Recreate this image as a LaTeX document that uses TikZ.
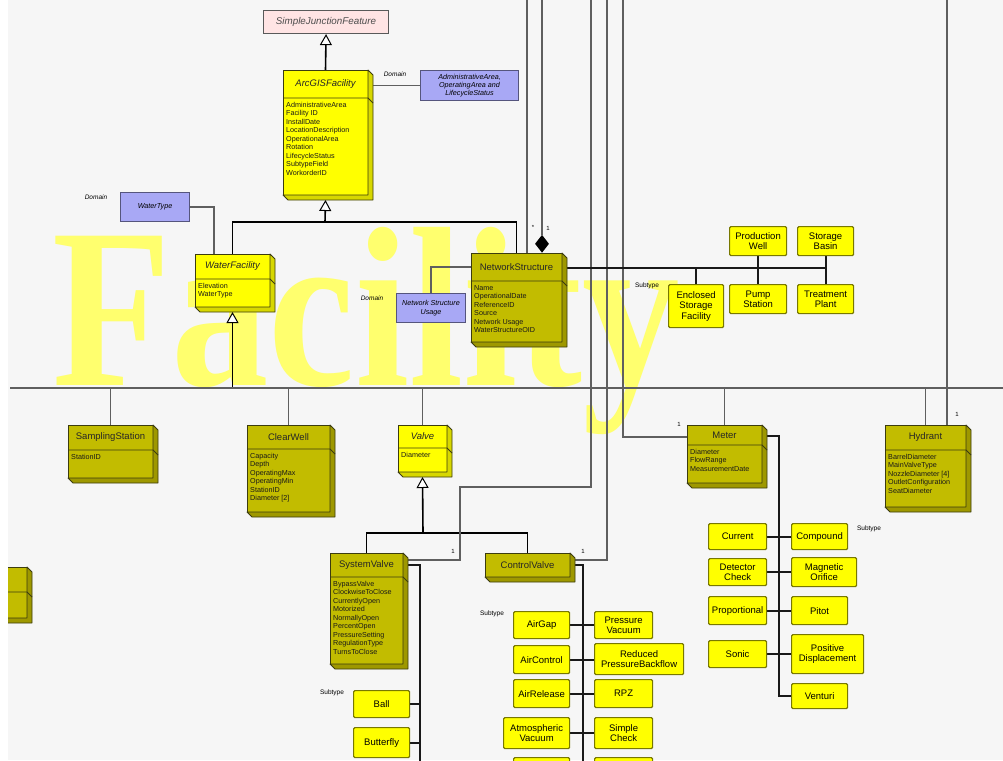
\documentclass[tikz,border=0pt]{standalone}
\usepackage{fontspec}
\setmainfont{Liberation Sans}
\newfontfamily\wmfont{Liberation Serif}
\usetikzlibrary{arrows.meta,calc,shapes.geometric}

\definecolor{bgc}{RGB}{246,246,246}
\definecolor{ylw}{RGB}{255,255,0}
\definecolor{ylwside}{RGB}{215,215,0}
\definecolor{olv}{RGB}{194,188,0}
\definecolor{olvside}{RGB}{158,152,0}
\definecolor{boxedge}{RGB}{60,60,15}
\definecolor{subedge}{RGB}{120,120,0}
\definecolor{lav}{RGB}{168,168,245}
\definecolor{lavedge}{RGB}{85,85,125}
\definecolor{pnk}{RGB}{255,228,228}
\definecolor{wmark}{RGB}{255,255,110}
\definecolor{linegray}{RGB}{95,95,95}

\pgfdeclarelayer{wm}
\pgfdeclarelayer{bg}
\pgfsetlayers{wm,bg,main}

\tikzset{
  frontY/.style={draw=boxedge, line width=0.8pt, fill=ylw, inner sep=0pt, outer sep=0pt},
  frontO/.style={draw=boxedge, line width=0.8pt, fill=olv, inner sep=0pt, outer sep=0pt},
  sideY/.style={draw=boxedge, line width=0.8pt, fill=ylwside, line join=round},
  sideO/.style={draw=boxedge, line width=0.8pt, fill=olvside, line join=round},
  sepline/.style={draw=boxedge, line width=0.8pt},
  ctitle/.style={font=\fontsize{9.5}{11}\selectfont, text=black!85, inner sep=0pt},
  cattr/.style={font=\fontsize{7.2}{8.5}\selectfont, align=left, inner sep=0pt, text=black!90},
  subbox/.style={draw=subedge, line width=1.2pt, fill=ylw, rounded corners=1.2pt, align=center,
    inner sep=1pt, font=\fontsize{9.5}{10.5}\selectfont},
  dombox/.style={draw=lavedge, line width=1.1pt, fill=lav, align=center, inner sep=1pt,
    font=\itshape\fontsize{7.2}{8.2}\selectfont},
  smalllbl/.style={font=\fontsize{6.5}{7}\selectfont, inner sep=0pt},
  numlbl/.style={font=\fontsize{6}{7}\selectfont, inner sep=0pt},
  gen/.style={draw=black, line width=1.6pt, -{Triangle[length=11pt,width=12pt,fill=white,line width=1pt]}},
  genl/.style={draw=black, line width=1.6pt},
  busline/.style={draw=linegray, line width=1.8pt},
  assoc/.style={draw=linegray, line width=1.2pt},
  subl/.style={draw=black!90, line width=1.9pt},
}

% UML class box with a 3D side:
% #1 name, #2 x, #3 y, #4 width, #5 height, #6 header height, #7 Y/O colour, #8 title, #9 attributes
\newcommand\umlclass[9]{%
  \node[front#7, minimum width=#4pt, minimum height=#5pt, anchor=north west] (#1) at (#2,#3) {};
  \draw[side#7] (#1.north east) -- ++(5,5) -- ++(0,#5) -- ++(-#4,0) -- (#1.south west) -- (#1.south east) -- cycle;
  \draw[sepline] ([yshift=-#6pt]#1.north west) -- ([yshift=-#6pt]#1.north east) -- ++(5,5);
  \node[ctitle] (#1-t) at ([yshift={-#6pt/2}]#1.north) {#8};
  \node[cattr, anchor=north west] (#1-a) at ([xshift=3pt,yshift={-#6pt-4pt}]#1.north west) {#9};
}
% subtype box: #1 name, #2 x, #3 y, #4 width, #5 height, #6 text
\newcommand\stbox[6]{\node[subbox, minimum width=#4pt, minimum height=#5pt, anchor=north west] (#1) at (#2,#3) {#6};}

\begin{document}
\begin{tikzpicture}[x=1pt,y=-1pt]
\useasboundingbox (0,0) rectangle (1003,760);

% background and watermark
\begin{pgfonlayer}{wm}
\fill[bgc] (0,0) rectangle (1003,760);
\node[text=wmark, font=\wmfont\bfseries\fontsize{228}{228}\selectfont, anchor=base west, inner sep=0pt] (wmtext) at (52,385) {\scalebox{0.855}[1]{Facility}};
\end{pgfonlayer}

% ---------- classes ----------
\node[draw=gray!70!black, line width=1.1pt, fill=pnk, minimum width=125pt, minimum height=23pt,
  anchor=north west, font=\itshape\fontsize{9.8}{11}\selectfont, text=black!70] (SJF) at (263,10) {SimpleJunctionFeature};

\umlclass{AGF}{283}{70}{85}{125}{28}{Y}{\itshape ArcGISFacility}{AdministrativeArea\\Facility ID\\InstallDate\\LocationDescription\\OperationalArea\\Rotation\\LifecycleStatus\\SubtypeField\\WorkorderID}
\umlclass{WF}{195}{254}{75}{53}{25}{Y}{\itshape WaterFacility}{Elevation\\WaterType}
\umlclass{NS}{471}{253}{91}{89}{28}{O}{NetworkStructure}{Name\\OperationalDate\\ReferenceID\\Source\\Network Usage\\WaterStructureOID}
\umlclass{SS}{68}{425}{85}{53}{25}{O}{SamplingStation}{StationID}
\umlclass{CW}{247}{425}{83}{87}{24}{O}{ClearWell}{Capacity\\Depth\\OperatingMax\\OperatingMin\\StationID\\Diameter [2]}
\umlclass{VL}{398}{425}{49}{47}{23}{Y}{\itshape Valve}{Diameter}
\umlclass{MT}{687}{425}{75}{58}{20}{O}{Meter}{Diameter\\FlowRange\\MeasurementDate}
\umlclass{HY}{885}{425}{81}{82}{25}{O}{Hydrant}{BarrelDiameter\\MainValveType\\NozzleDiameter [4]\\OutletConfiguration\\SeatDiameter}
\umlclass{SV}{330}{553}{73}{111}{24}{O}{SystemValve}{BypassValve\\ClockwiseToClose\\CurrentlyOpen\\Motorized\\NormallyOpen\\PercentOpen\\PressureSetting\\RegulationType\\TurnsToClose}
\umlclass{PL}{-60}{567}{87}{51}{25}{O}{}{}

\node[frontO, minimum width=85pt, minimum height=24pt, anchor=north west] (CV) at (485,553) {};
\draw[sideO] (CV.north east) -- ++(5,5) -- ++(0,24) -- ++(-85,0) -- (CV.south west) -- (CV.south east) -- cycle;
\node[ctitle] (CV-t) at (CV.center) {ControlValve};

% domains
\node[dombox, minimum width=98pt, minimum height=30pt, anchor=north west] (ADM) at (420,70) {AdministrativeArea,\\OperatingArea and\\LifecycleStatus};
\node[dombox, minimum width=69pt, minimum height=29pt, anchor=north west] (WT) at (120,192) {WaterType};
\node[dombox, minimum width=69pt, minimum height=29pt, anchor=north west] (NSU) at (396,293) {Network Structure\\Usage};

% subtypes of NetworkStructure
\stbox{PW}{729}{226}{57}{29}{Production\\Well}
\stbox{SB}{797}{226}{56}{29}{Storage\\Basin}
\stbox{ESF}{668}{284}{55}{43}{Enclosed\\Storage\\Facility}
\stbox{PS}{729}{284}{57}{29}{Pump\\Station}
\stbox{TP}{797}{284}{56}{29}{Treatment\\Plant}

% subtypes of Meter
\stbox{CUR}{708}{523}{58}{26}{Current}
\stbox{DC}{708}{558}{58}{27}{Detector\\Check}
\stbox{PRO}{708}{596}{58}{28}{Proportional}
\stbox{SON}{708}{640}{58}{27}{Sonic}
\stbox{CMP}{791}{523}{56}{26}{Compound}
\stbox{MO}{791}{557}{65}{29}{Magnetic\\Orifice}
\stbox{PIT}{791}{596}{56}{28}{Pitot}
\stbox{PD}{791}{634}{72}{39}{Positive\\Displacement}
\stbox{VEN}{791}{683}{56}{25}{Venturi}

% subtypes of ControlValve
\stbox{AG}{513}{611}{56}{27}{AirGap}
\stbox{AC}{513}{645}{56}{28}{AirControl}
\stbox{AR}{513}{679}{56}{28}{AirRelease}
\stbox{AV}{503}{717}{66}{31}{Atmospheric\\Vacuum}
\stbox{CL5}{513}{757}{56}{30}{}
\stbox{PV}{594}{611}{58}{27}{Pressure\\Vacuum}
\stbox{RPB}{594}{643}{89}{31}{Reduced\\PressureBackflow}
\stbox{RPZ}{594}{679}{58}{28}{RPZ}
\stbox{SC}{594}{717}{58}{31}{Simple\\Check}
\stbox{CR5}{594}{757}{58}{30}{}

% subtypes of SystemValve
\stbox{BAL}{353}{690}{56}{27}{Ball}
\stbox{BUT}{353}{727}{56}{30}{Butterfly}

% aggregation diamond
\node[diamond, fill=black, minimum width=14pt, minimum height=18pt, inner sep=0pt, anchor=south] (DIA) at (542,253) {};

% labels
\node[smalllbl, font=\itshape\fontsize{6.5}{7}\selectfont] (dl1) at (395,74) {Domain};
\node[smalllbl, font=\itshape\fontsize{6.5}{7}\selectfont] (dl2) at (96,197) {Domain};
\node[smalllbl, font=\itshape\fontsize{6.5}{7}\selectfont] (dl3) at (372,298) {Domain};
\node[smalllbl] (sl1) at (647,286) {Subtype};
\node[smalllbl] (sl2) at (869,529) {Subtype};
\node[smalllbl] (sl3) at (492,614) {Subtype};
\node[smalllbl] (sl4) at (332,693) {Subtype};
\node[numlbl] (n1) at (533,227) {*};
\node[numlbl] (n2) at (548,228) {1};
\node[numlbl] (n3) at (453,551) {1};
\node[numlbl] (n4) at (583,551) {1};
\node[numlbl] (n5) at (679,424) {1};
\node[numlbl] (n6) at (957,414) {1};

% ---------- connectors ----------
\begin{pgfonlayer}{bg}
\coordinate (busW) at (10,388);
\coordinate (busE) at (1003,388);
\coordinate (barA) at (325,222);
\coordinate (barV) at (423,533);
\coordinate (tA) at (527,0);
\coordinate (tB) at (542,0);
\coordinate (tC) at (591,0);
\coordinate (tD) at (607,0);
\coordinate (tE) at (623,0);
\coordinate (tF) at (947,0);
\coordinate (hookC) at (460,487);
\coordinate (cvEnd) at (583,765);
\coordinate (svEnd) at (420,765);
\coordinate (nsBar) at ([yshift=-15pt]NS.north east);

% generalisation
\draw[gen] (AGF.north) -- (SJF.south);
\draw[genl] (WF.north) |- (barA);
\draw[genl] (NS.north) |- (barA);
\draw[gen] (barA) -- ($(AGF.south)+(0,5)$);
\draw[genl] (busW -| WF.south) -- ($(WF.south)+(0,16)$);
\draw[gen] ($(WF.south)+(0,16)$) -- ($(WF.south)+(0,5)$);
\draw[genl] (SV.north) |- (barV);
\draw[genl] (CV.north) |- (barV);
\draw[gen] (barV) -- ($(VL.south)+(0,5)$);

% bus and stems
\draw[busline] (busW) -- (busE);
\draw[busline] (SS.north) -- (SS.north |- busW);
\draw[busline] (CW.north) -- (CW.north |- busW);
\draw[busline] (VL.north) -- (VL.north |- busW);
\draw[busline] (MT.north) -- (MT.north |- busW);
\draw[busline] (HY.north) -- (HY.north |- busW);

% associations
\draw[assoc] (AGF.east |- ADM.west) -- (ADM.west);
\draw[assoc] (WT.east) -| ($(WF.north west)+(19,0)$);
\draw[assoc] (NSU.north) |- ([yshift=-14pt]NS.north west);
\draw[assoc] (tA) -- (tA |- NS.north);
\draw[assoc] (tB) -- (DIA.north);
\draw[assoc] (tC) |- (hookC) |- ([yshift=-7pt,xshift=5pt]SV.north east);
\draw[assoc] (tD) |- ([yshift=-7pt,xshift=5pt]CV.north east);
\draw[assoc] (tE) |- ([yshift=-12pt]MT.north west);
\draw[assoc] (tF) -- (tF |- HY.north);

% subtype trees
\draw[subl] (nsBar) -| (TP.north);
\draw[subl] (SB.south) -- (TP.north);
\draw[subl] (PW.south) -- (PS.north);
\draw[subl] (ESF.north) -- (ESF.north |- nsBar);

\draw[subl] ([yshift=-11pt]MT.north east) -| ($(VEN.west)+(-12,0)$) -- (VEN.west);
\draw[subl] (CUR.east) -- (CMP.west);
\draw[subl] (DC.east) -- (MO.west);
\draw[subl] (PRO.east) -- (PIT.west);
\draw[subl] (SON.east) -- (PD.west);

\draw[subl] ([yshift=-12pt]CV.north east) -| (cvEnd);
\draw[subl] (AG.east) -- (PV.west);
\draw[subl] (AC.east) -- (RPB.west |- AC.east);
\draw[subl] (AR.east) -- (RPZ.west);
\draw[subl] (AV.east) -- (SC.west);

\draw[subl] ([yshift=-12pt]SV.north east) -| (svEnd);
\draw[subl] (BAL.east) -- (BAL.east -| svEnd);
\draw[subl] (BUT.east) -- (BUT.east -| svEnd);
\end{pgfonlayer}

% white margin at the left edge
\fill[white] (0,0) rectangle (8,760);
\end{tikzpicture}
\end{document}
